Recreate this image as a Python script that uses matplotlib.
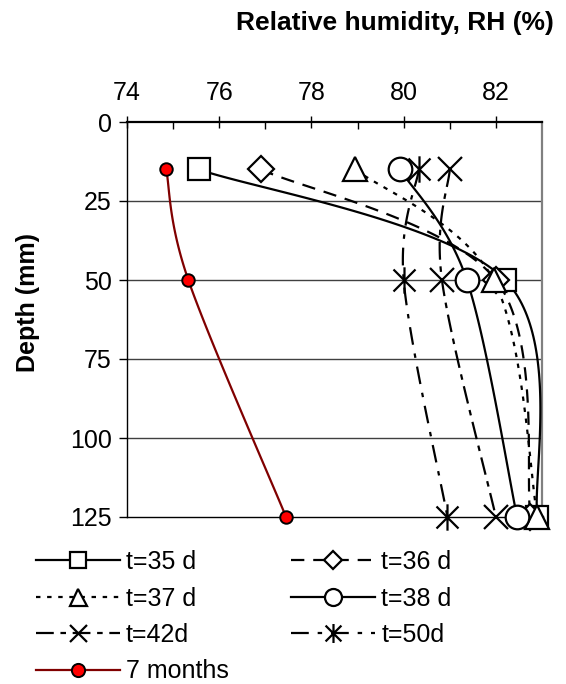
import numpy as np
import matplotlib
matplotlib.use("Agg")
import matplotlib.pyplot as plt
from matplotlib.path import Path
from matplotlib.lines import Line2D

plt.rcParams['font.family'] = ['Liberation Sans', 'DejaVu Sans']

depth = [15, 50, 125]
rh_35 = [75.56, 82.2, 82.9]
rh_36 = [76.9, 82.0, 82.75]
rh_37 = [78.95, 81.95, 82.9]
rh_38 = [79.92, 81.37, 82.46]
rh_42 = [81.0, 80.83, 82.0]
rh_50 = [80.33, 80.0, 80.95]
rh_7m = [74.85, 75.33, 77.45]

xticks = [74, 76, 78, 80, 82]
yticks = [0, 25, 50, 75, 100, 125]


def smooth(xs, ys, n=60):
    P = np.column_stack([xs, ys]).astype(float)
    m = len(P)
    out = []
    for i in range(m - 1):
        p0 = P[max(i - 1, 0)]
        p1 = P[i]
        p2 = P[i + 1]
        p3 = P[min(i + 2, m - 1)]
        c1 = p1 + (p2 - p0) / 6.0
        c2 = p2 - (p3 - p1) / 6.0
        t = np.linspace(0, 1, n)[:, None]
        seg = ((1 - t) ** 3) * p1 + 3 * ((1 - t) ** 2) * t * c1 + 3 * (1 - t) * t ** 2 * c2 + t ** 3 * p2
        out.append(seg if i == 0 else seg[1:])
    s = np.vstack(out)
    return s[:, 0], s[:, 1]


ast = Path([(-1, -1), (1, 1), (-1, 1), (1, -1), (0, -1.2), (0, 1.2)],
           [Path.MOVETO, Path.LINETO, Path.MOVETO, Path.LINETO, Path.MOVETO, Path.LINETO])

fig = plt.figure(figsize=(5.66, 6.84), dpi=100)
ax = fig.add_axes([127 / 566, 1 - 517 / 684, (542 - 127) / 566, (517 - 122) / 684])

series = [
    ('t=35 d', rh_35, '-', 's', 16),
    ('t=36 d', rh_36, (0, (6, 4)), 'D', 13),
    ('t=37 d', rh_37, (0, (2, 3)), '^', 17),
    ('t=38 d', rh_38, '-', 'o', 17),
    ('t=42d', rh_42, (0, (8, 3, 2.5, 3)), 'x', 17),
    ('t=50d', rh_50, (0, (8, 4, 2, 4)), ast, 19),
]
handles = {}
for lab, xs, ls, mk, ms in series:
    sx, sy = smooth(xs, depth)
    ax.plot(sx, sy, color='black', lw=1.6, linestyle=ls, zorder=3)
    ax.plot(xs, depth, linestyle='none', marker=mk, ms=ms, mfc='white', mec='black', mew=1.6,
            zorder=4, clip_on=False)
    handles[lab] = Line2D([], [], color='black', lw=1.6, linestyle=ls, marker=mk, ms=ms * 0.72,
                          mfc='white', mec='black', mew=1.6)

sx, sy = smooth(rh_7m, depth)
ax.plot(sx, sy, color='#800000', lw=1.6, zorder=3)
ax.plot(rh_7m, depth, linestyle='none', marker='o', ms=9, mfc='red', mec='black', mew=1.4,
        zorder=4, clip_on=False)
handles['7 months'] = Line2D([], [], color='#800000', lw=1.6, marker='o', ms=9.5, mfc='red', mec='black', mew=1.4)

ax.set_xlim(74, 83)
ax.set_ylim(125, 0)
ax.xaxis.tick_top()
ax.set_xticks(xticks)
ax.set_xticks(np.arange(75, 83, 2), minor=True)
ax.set_yticks(yticks)
ax.tick_params(axis='x', which='major', direction='inout', length=9, width=1, labelsize=18, pad=8)
ax.tick_params(axis='x', which='minor', direction='in', length=5, width=1)
ax.tick_params(axis='y', which='major', direction='out', length=6, width=1, labelsize=18, pad=5)
for yv in yticks[1:-1]:
    ax.axhline(yv, color='#404040', lw=1.0, zorder=1)
ax.spines['top'].set_linewidth(1.6)
ax.spines['left'].set_linewidth(1.0)
ax.spines['bottom'].set_linewidth(1.0)
ax.spines['right'].set_color('#808080')
ax.spines['right'].set_linewidth(1.6)

fig.text(395 / 566, 1 - 23 / 684, 'Relative humidity, RH (%)', fontsize=19, fontweight='bold',
         ha='center', va='center')
fig.text(28 / 566, 1 - 303 / 684, 'Depth (mm)', fontsize=18, fontweight='bold',
         ha='center', va='center', rotation=90)

order = ['t=35 d', 't=37 d', 't=42d', '7 months', 't=36 d', 't=38 d', 't=50d']
fig.legend([handles[k] for k in order], order, ncol=2, loc='upper left',
           bbox_to_anchor=(36 / 566, 1 - 550 / 684), frameon=False, fontsize=18,
           handlelength=3.35, handletextpad=0.25, columnspacing=2.5, labelspacing=0.5,
           borderpad=0, borderaxespad=0)

fig.savefig('out.png', dpi=100)
